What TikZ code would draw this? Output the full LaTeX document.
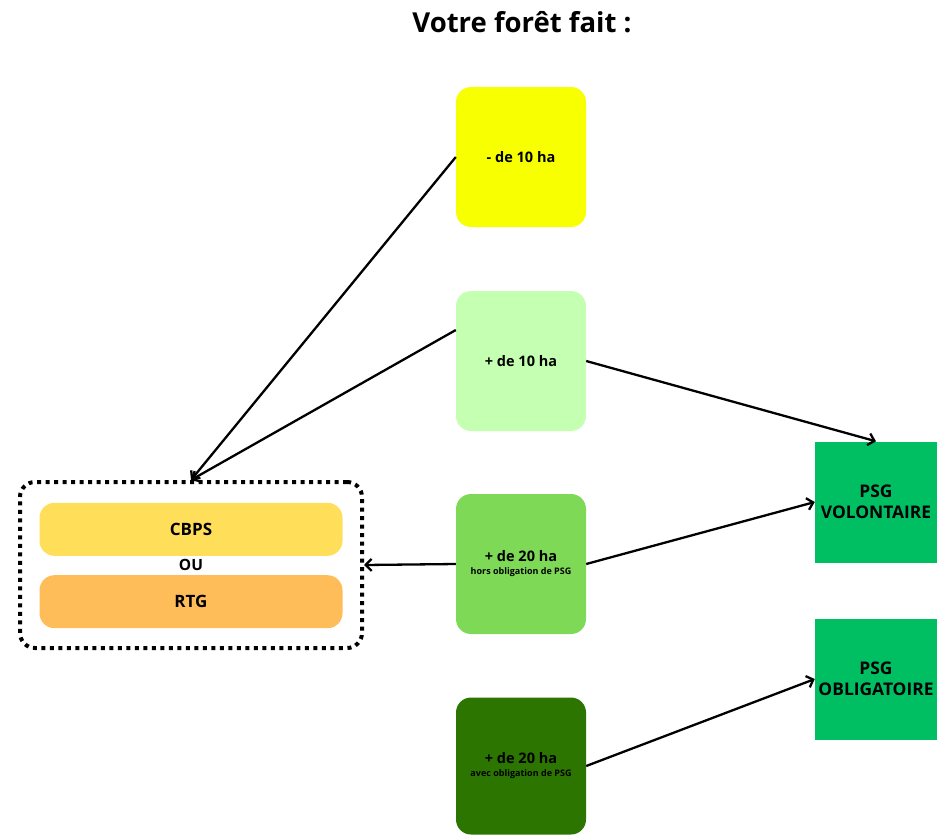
\documentclass[tikz,border=0pt]{standalone}
\usepackage{fontspec}
\setmainfont{Open Sans}
\usetikzlibrary{arrows.meta, positioning}
\definecolor{moinsdix}{RGB}{247, 255, 0}
\definecolor{plusdix}{RGB}{196, 255, 178}
\definecolor{plusvingt}{RGB}{126, 217, 87}
\definecolor{obligation}{RGB}{43, 117, 0}
\definecolor{psggreen}{RGB}{0, 191, 99}
\definecolor{cbpsyellow}{RGB}{255, 222, 89}
\definecolor{rtgorange}{RGB}{255, 189, 89}

\begin{document}
\begin{tikzpicture}[
    x=1pt, y=-1pt,
    surface/.style={rounded corners=15pt, minimum width=130pt, minimum height=140pt, align=center, font=\bfseries\fontsize{14.5}{17}\selectfont},
    plan/.style={fill=psggreen, minimum width=122pt, minimum height=121pt, align=center, font=\bfseries\fontsize{17.4}{21}\selectfont},
    doc/.style={rounded corners=15pt, minimum width=303pt, minimum height=53pt, font=\bfseries\fontsize{17}{20}\selectfont},
    arrow/.style={-{Straight Barb[length=6pt, width=12pt]}, line width=2.3pt}
]
\useasboundingbox (0,0) rectangle (944,836);

\node[font=\bfseries\fontsize{27.5}{32}\selectfont] (titre) at (522,22) {Votre forêt fait :};

% surfaces
\node[surface, fill=moinsdix] (moins10) at (521,157) {- de 10 ha};
\node[surface, fill=plusdix] (plus10) at (521,361) {+ de 10 ha};
\node[surface, fill=plusvingt] (hors20) at (521,564) {+ de 20 ha\\[-4pt]{\fontsize{9}{10}\selectfont hors obligation de PSG}};
\node[surface, fill=obligation, minimum height=137pt] (avec20) at (521,766) {+ de 20 ha\\[-4pt]{\fontsize{9}{10}\selectfont avec obligation de PSG}};

% plans de gestion
\node[plan] (volontaire) at (876,502) {PSG\\VOLONTAIRE};
\node[plan] (obligatoire) at (876,679) {PSG\\OBLIGATOIRE};

% documents
\node[draw, dash pattern=on 4pt off 4.5pt, line width=4pt, rounded corners=15pt, minimum width=342pt, minimum height=166pt] (choix) at (191,565) {};
\node[font=\bfseries\fontsize{15.5}{18}\selectfont] (ou) at (191,565) {OU};
\node[doc, fill=cbpsyellow, above=9pt of ou.center] (cbps) {CBPS};
\node[doc, fill=rtgorange, below=10pt of ou.center] (rtg) {RTG};

\draw[arrow] (moins10.west) -- (choix.north);
\draw[arrow] ([yshift=31pt]plus10.west) -- (choix.north);
\draw[arrow] (hors20.west) -- (choix.east);
\draw[arrow] (plus10.east) -- (volontaire.north);
\draw[arrow] (hors20.east) -- (volontaire.west);
\draw[arrow] (avec20.east) -- (obligatoire.west);

\end{tikzpicture}
\end{document}
